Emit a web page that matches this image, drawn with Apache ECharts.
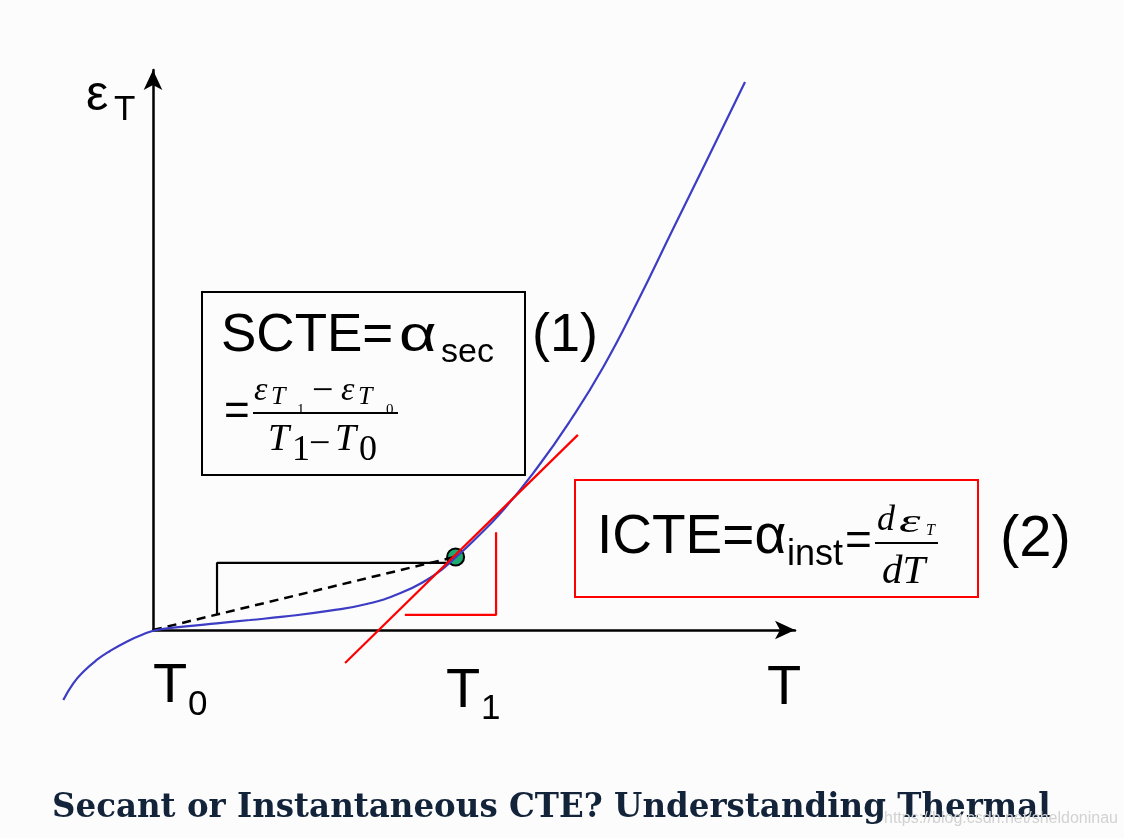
<!DOCTYPE html>
<html>
<head>
<meta charset="utf-8">
<script src="https://cdn.jsdelivr.net/npm/echarts@6/dist/echarts.min.js"></script>
<style>
html,body{margin:0;padding:0;background:#fcfcfc;}
#chart{width:1124px;height:838px;}
</style>
</head>
<body>
<div id="chart"></div>
<script>
// ---- data (diagram units: T along x, strain eps along y; T0 = 0, T1 = 10) ----
const curveT   = [-2.970, -2.639, -2.308, -1.864, -1.424, -0.871, -0.321, 0.123, 1.003, 2.109, 3.212, 4.315, 5.861, 7.076, 8.179, 9.063, 9.613, 9.944, 10.606, 11.599, 12.705, 13.808, 14.911, 16.017, 17.219, 18.344, 19.603];
const curveEps = [-2.318, -1.765, -1.381, -0.993, -0.695, -0.387, -0.142, 0, 0.109, 0.222, 0.331, 0.440, 0.639, 0.861, 1.215, 1.656, 2.043, 2.334, 2.947, 3.974, 5.348, 6.921, 8.709, 10.818, 13.278, 15.563, 18.146];
const tangentT   = [6.36, 14.07];
const tangentEps = [-1.09, 6.46];
const secantT   = [0, 10];
const secantEps = [0, 2.42];
const stepT   = [2.12, 2.12, 9.83];
const stepEps = [0.5, 2.22, 2.22];
const rightAngleT   = [8.34, 11.36, 11.36];
const rightAngleEps = [0.5, 0.5, 3.24];
const pointT1 = [10.02, 2.42];
const titleText = 'Secant or Instantaneous CTE? Understanding Thermal';
const watermark = 'https://blog.csdn.net/sheldoninau';

const zip = (a, b) => a.map((v, i) => [v, b[i]]);

const SANS = 'Liberation Sans, Arial, sans-serif';
const SERIF = 'Liberation Serif, Times New Roman, serif';
function txt(x, y, text, size, extra, el) {
  return Object.assign({
    type: 'text', x: x, y: y, silent: true,
    style: Object.assign({
      text: text, fontSize: size, fontFamily: SANS, fill: '#000',
      align: 'left', verticalAlign: 'middle'
    }, (extra || {}))
  }, (el || {}));
}
const it = { fontFamily: SERIF, fontStyle: 'italic' };
const up = { fontFamily: SERIF };

const chart = echarts.init(document.getElementById('chart'));
chart.setOption({
  backgroundColor: '#fcfcfc',
  animation: false,
  grid: [
    { left: 2, right: 4.6, top: 56.2, bottom: 57 },
    { left: 153, right: 329, top: 70, bottom: 208 }
  ],
  xAxis: [
    { gridIndex: 0, type: 'value', min: -5, max: 32, show: false },
    { gridIndex: 1, type: 'value', min: 0, max: 1,
      axisLine: { show: true, onZero: false, symbol: ['none', 'arrow'], symbolSize: [14, 20],
        lineStyle: { color: '#000', width: 2.5 } },
      axisTick: { show: false }, axisLabel: { show: false }, splitLine: { show: false } }
  ],
  yAxis: [
    { gridIndex: 0, type: 'value', min: -5, max: 19, show: false },
    { gridIndex: 1, type: 'value', min: 0, max: 1,
      axisLine: { show: true, onZero: false, symbol: ['none', 'arrow'], symbolSize: [14, 20],
        lineStyle: { color: '#000', width: 2.5 } },
      axisTick: { show: false }, axisLabel: { show: false }, splitLine: { show: false } }
  ],
  series: [
    { type: 'line', name: 'step', data: zip(stepT, stepEps), showSymbol: false,
      lineStyle: { color: '#000', width: 2.2 }, silent: true },
    { type: 'line', name: 'rightAngle', data: zip(rightAngleT, rightAngleEps), showSymbol: false,
      lineStyle: { color: '#ff0000', width: 2.2 }, silent: true },
    { type: 'line', name: 'secant', data: zip(secantT, secantEps), showSymbol: false,
      lineStyle: { color: '#000', width: 2.5, type: [9, 6] }, silent: true },
    { type: 'line', name: 'curve', data: zip(curveT, curveEps), showSymbol: false,
      smooth: 0.5,
      lineStyle: { color: '#3c3cc4', width: 2.2 }, silent: true },
    { type: 'line', name: 'tangent', data: zip(tangentT, tangentEps), showSymbol: false,
      lineStyle: { color: '#ff0000', width: 2.2 }, silent: true },
    { type: 'scatter', name: 'T1', data: [pointT1], symbolSize: 17,
      itemStyle: { color: '#1caa70', borderColor: '#000', borderWidth: 2, opacity: 1 }, silent: true }
  ],
  graphic: [
    // boxes
    { type: 'rect', shape: { x: 202, y: 292, width: 323, height: 183 }, silent: true,
      style: { fill: 'none', stroke: '#000', lineWidth: 2 } },
    { type: 'rect', shape: { x: 575, y: 480, width: 403, height: 117 }, silent: true,
      style: { fill: 'none', stroke: '#ff0000', lineWidth: 2 } },
    // axis labels
    txt(86, 96, 'ε', 50),
    txt(114, 110, 'T', 35),
    txt(153, 687, 'T', 56), txt(188, 705, '0', 35),
    txt(446, 692, 'T', 56), txt(481, 709, '1', 35),
    txt(767, 689, 'T', 56),
    // SCTE formula
    txt(221, 336, 'SCTE=', 53),
    txt(399, 337, 'α', 50, null, { scaleX: 1.3 }),
    txt(441, 353, 'sec', 34),
    txt(532, 336, '(1)', 54),
    txt(224, 413, '=', 44),
    txt(254, 391, 'ε', 34, it), txt(271, 397, 'T', 26, it), txt(297, 410, '1', 15, up),
    txt(312, 392, '−', 38, up),
    txt(341, 391, 'ε', 34, it), txt(358, 397, 'T', 26, it), txt(386, 410, '0', 15, up),
    { type: 'line', shape: { x1: 253, y1: 413, x2: 398, y2: 413 }, silent: true,
      style: { stroke: '#000', lineWidth: 2 } },
    txt(268, 440, 'T', 38, it), txt(292, 451, '1', 36, up),
    txt(309, 445, '−', 38, up),
    txt(335, 440, 'T', 38, it), txt(359, 451, '0', 36, up),
    // ICTE formula
    txt(597, 538, 'ICTE=α', 55),
    txt(787, 555, 'inst', 36),
    txt(845, 542, '=', 46),
    txt(877, 521, 'd', 36, it), txt(899, 523, 'ε', 34, it, { scaleX: 1.6 }), txt(926, 531, 'T', 16, it),
    { type: 'line', shape: { x1: 875, y1: 543, x2: 938, y2: 543 }, silent: true,
      style: { stroke: '#000', lineWidth: 2 } },
    txt(882, 572, 'dT', 41, it),
    txt(1000, 540, '(2)', 58),
    // title and watermark
    txt(52, 808, titleText, 34,
      { fontFamily: 'DejaVu Serif Condensed, DejaVu Serif, serif', fontWeight: 'bold', fill: '#13243a' },
      { scaleX: 1.062 }),
    txt(884, 819, watermark, 16, { fill: '#d2d2d2' })
  ]
});
</script>
</body>
</html>
